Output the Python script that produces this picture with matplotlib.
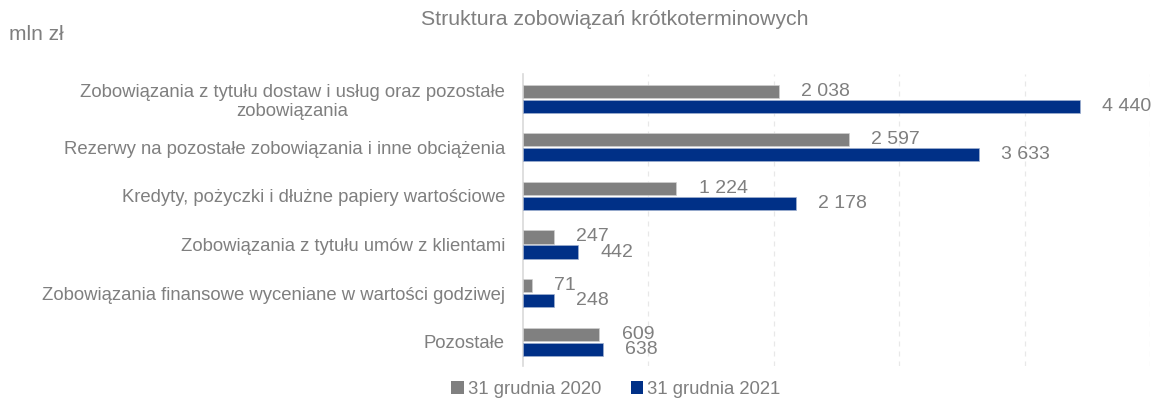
import numpy as np
import matplotlib.pyplot as plt
from matplotlib.patches import Patch

plt.rcParams['font.family'] = ['Liberation Sans', 'DejaVu Sans']

# Data (mln zł)
categories = [
    'Zobowiązania z tytułu dostaw i usług oraz pozostałe\nzobowiązania',
    'Rezerwy na pozostałe zobowiązania i inne obciążenia',
    'Kredyty, pożyczki i dłużne papiery wartościowe',
    'Zobowiązania z tytułu umów z klientami',
    'Zobowiązania finansowe wyceniane w wartości godziwej',
    'Pozostałe',
]
values_2020 = [2038, 2597, 1224, 247, 71, 609]
values_2021 = [4440, 3633, 2178, 442, 248, 638]
series_names = ['31 grudnia 2020', '31 grudnia 2021']

gray = '#808080'
navy = '#003087'
text_color = '#7f7f7f'

fig = plt.figure(figsize=(11.53, 4.01), dpi=100)
ax = fig.add_axes([0.4536, 0.0873, 0.5438, 0.727])

y = np.arange(len(categories))
h = 0.27
ax.barh(y - 0.155, values_2020, height=h, color=gray, edgecolor='#d0d0d0', linewidth=0.5, zorder=3)
ax.barh(y + 0.155, values_2021, height=h, color=navy, edgecolor='#a0b0d0', linewidth=0.5, zorder=3)

def fmt(v):
    return f'{v:,}'.replace(',', ' ')

for yi, v in zip(y - 0.155, values_2020):
    ax.annotate(fmt(v), (v, yi), xytext=(16, 0), textcoords='offset points',
                va='center', ha='left', fontsize=14, color=text_color)
for yi, v in zip(y + 0.155, values_2021):
    ax.annotate(fmt(v), (v, yi), xytext=(16, 0), textcoords='offset points',
                va='center', ha='left', fontsize=14, color=text_color)

ax.set_xlim(0, 5000)
ax.set_ylim(len(categories) - 0.5, -0.5)
ax.set_xticks([1000, 2000, 3000, 4000, 5000])
ax.xaxis.grid(True, color='#e8e8e8', linestyle=(0, (4, 4)), linewidth=0.9, zorder=0)
ax.tick_params(axis='x', length=0, labelbottom=False)
ax.tick_params(axis='y', length=0, pad=13)
ax.set_yticks(y)
ax.set_yticklabels(categories, fontsize=13.3, color=text_color)
for lbl in ax.get_yticklabels():
    lbl.set_multialignment('center')

for side in ['top', 'right', 'bottom']:
    ax.spines[side].set_visible(False)
ax.spines['left'].set_color('#d9d9d9')
ax.spines['left'].set_linewidth(1.2)

fig.text(0.533, 0.952, 'Struktura zobowiązań krótkoterminowych', ha='center', va='center',
         fontsize=15.3, color=text_color)
fig.text(0.008, 0.915, 'mln zł', ha='left', va='center', fontsize=15, color=text_color)

handles = [Patch(facecolor=gray), Patch(facecolor=navy)]
leg = fig.legend(handles, series_names, loc='center', bbox_to_anchor=(0.534, 0.028), ncol=2,
                 frameon=False, fontsize=13.3, handlelength=0.7, handleheight=0.7,
                 handletextpad=0.2, columnspacing=1.6)
for t in leg.get_texts():
    t.set_color(text_color)

fig.savefig('out.png', dpi=100)
